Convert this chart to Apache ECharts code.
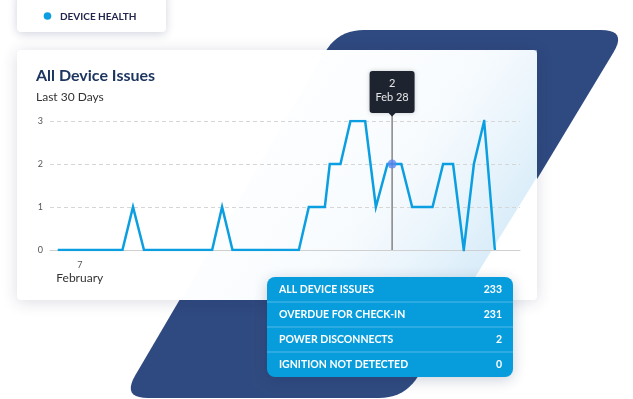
<!DOCTYPE html>
<html><head><meta charset="utf-8">
<script src="https://cdn.jsdelivr.net/npm/echarts@6/dist/echarts.min.js"></script>
<style>html,body{margin:0;padding:0;background:#fff;overflow:hidden}#c{width:633px;height:399px}</style>
</head><body><div id="c"></div>
<script>
// ---- data ----
const badgeText = 'DEVICE HEALTH';
const chartTitle = 'All Device Issues';
const chartSubtitle = 'Last 30 Days';
// day of February (fractional) for each vertex of the line
const days = [5.52, 9.87, 10.58, 11.32, 15.90, 16.57, 17.27, 21.73, 22.40, 23.48, 23.81, 24.53, 25.20,
              26.19, 26.91, 27.69, 28.00, 28.62, 29.35, 30.72, 31.43, 32.10, 32.82, 33.50, 34.19, 34.91];
const issues = [0, 0, 1, 0, 0, 1, 0, 0, 1, 1, 2, 2, 3,
                3, 1, 2, 2, 2, 1, 1, 2, 2, 0, 2, 3, 0];
const yTicks = [0, 1, 2, 3];
const xLabelDay = 7;
const xLabelMonth = 'February';
const hoverIndex = 16;
const hoverDate = 'Feb 28';
const tableLabels = ['ALL DEVICE ISSUES', 'OVERDUE FOR CHECK-IN', 'POWER DISCONNECTS', 'IGNITION NOT DETECTED'];
const tableValues = [233, 231, 2, 0];

// ---- helpers ----
const FONT = 'Lato, "Noto Sans", sans-serif';
function roundedPoly(pts, r, seg) {
  const out = [];
  const n = pts.length;
  for (let i = 0; i < n; i++) {
    const p = pts[i], a = pts[(i - 1 + n) % n], b = pts[(i + 1) % n];
    const la = Math.hypot(a[0] - p[0], a[1] - p[1]), lb = Math.hypot(b[0] - p[0], b[1] - p[1]);
    const s = [p[0] + (a[0] - p[0]) * r / la, p[1] + (a[1] - p[1]) * r / la];
    const e = [p[0] + (b[0] - p[0]) * r / lb, p[1] + (b[1] - p[1]) * r / lb];
    for (let k = 0; k <= seg; k++) {
      const t = k / seg, u = 1 - t;
      out.push([u * u * s[0] + 2 * u * t * p[0] + t * t * e[0], u * u * s[1] + 2 * u * t * p[1] + t * t * e[1]]);
    }
  }
  return out;
}
function txt(x, y, text, size, weight, color, align, z) {
  return { type: 'text', x: x, y: y, z: z,
    style: { text: text, fontSize: size, fontWeight: weight, fontFamily: FONT, fill: color,
      align: align, verticalAlign: 'middle', textAlign: align, textVerticalAlign: 'middle' } };
}

const chart = echarts.init(document.getElementById('c'), null, { renderer: 'canvas' });
chart.setOption({
  animation: false,
  grid: { left: 50, right: 113, top: 121, bottom: 149, outerBoundsMode: 'none', containLabel: false },
  xAxis: {
    type: 'value', min: 5, max: 36.6, interval: 1, z: 5,
    axisLine: { show: true, lineStyle: { color: '#cfcfcf', width: 1 } },
    axisTick: { show: false }, splitLine: { show: false },
    axisLabel: {
      showMaxLabel: false, margin: 9,
      formatter: v => Math.abs(v - xLabelDay) < 1e-6 ? `{d|${xLabelDay}}\n{m|${xLabelMonth}}` : '',
      rich: {
        d: { fontSize: 9, color: '#555', lineHeight: 12, fontFamily: FONT, align: 'center' },
        m: { fontSize: 12, color: '#333', lineHeight: 14, fontFamily: FONT, align: 'center' }
      }
    }
  },
  yAxis: {
    type: 'value', min: yTicks[0], max: yTicks[yTicks.length - 1], interval: 1, z: 5,
    axisLine: { show: false }, axisTick: { show: false },
    axisLabel: { fontSize: 9, color: '#555', margin: 7, fontFamily: FONT },
    splitLine: { lineStyle: { color: '#d6d6d6', type: [4, 3], width: 1 } }
  },
  series: [
    { type: 'line', z: 6, symbol: 'none', data: days.map((d, i) => [d, issues[i]]),
      lineStyle: { color: '#0b9fe1', width: 2.5, join: 'miter' } },
    { type: 'scatter', z: 9, data: [[days[hoverIndex], issues[hoverIndex]]], symbolSize: 9,
      itemStyle: { color: '#5b87f2' } }
  ]
});

const hp = chart.convertToPixel({ gridIndex: 0 }, [days[hoverIndex], issues[hoverIndex]]);
const topY = chart.convertToPixel({ yAxisIndex: 0 }, yTicks[yTicks.length - 1]);
const baseY = chart.convertToPixel({ yAxisIndex: 0 }, yTicks[0]);
const boxW = 45, boxH = 42, boxBottom = topY - 8;

const navy = roundedPoly([[338, 30], [627, 30], [405, 398], [122, 398]], 26, 10);
const g = [];
g.push({ type: 'polygon', z: 1, shape: { points: navy }, style: { fill: '#2f4a80' } });
g.push({ type: 'rect', z: 2, shape: { x: 17, y: 50, width: 520, height: 250, r: 4 },
  style: { fill: '#fff', shadowBlur: 16, shadowColor: 'rgba(30,40,80,0.16)', shadowOffsetY: 2 } });
g.push({ type: 'polygon', z: 3, shape: { points: [[326, 50], [537, 50], [537, 177], [461, 300], [181, 300]] },
  style: { fill: { type: 'linear', x: 0.1, y: 0, x2: 0.95, y2: 0.9, colorStops: [
    { offset: 0, color: 'rgba(235,245,252,0)' }, { offset: 0.55, color: 'rgba(228,241,251,0.25)' },
    { offset: 1, color: 'rgba(205,231,247,1)' }] } } });
g.push(txt(36, 76, chartTitle, 16, 'bold', '#1d3660', 'left', 4));
g.push(txt(36, 97.5, chartSubtitle, 12, 'normal', '#333', 'left', 4));
// hover crosshair + tooltip
g.push({ type: 'line', z: 7, shape: { x1: hp[0], y1: boxBottom, x2: hp[0], y2: baseY },
  style: { stroke: '#4a4a4a', lineWidth: 1 } });
g.push({ type: 'rect', z: 10, shape: { x: hp[0] - boxW / 2, y: boxBottom - boxH, width: boxW, height: boxH, r: 3 },
  style: { fill: '#1d2430', shadowBlur: 4, shadowColor: 'rgba(0,0,0,0.2)' } });
g.push({ type: 'polygon', z: 10, shape: { points: [[hp[0] - 4, boxBottom - 0.5], [hp[0] + 4, boxBottom - 0.5], [hp[0], boxBottom + 3.5]] },
  style: { fill: '#1d2430' } });
g.push(txt(hp[0], boxBottom - boxH + 12.5, String(issues[hoverIndex]), 11, 'normal', '#e6e6e6', 'center', 11));
g.push(txt(hp[0], boxBottom - boxH + 26.5, hoverDate, 11, 'normal', '#e6e6e6', 'center', 11));
// summary table
const tx = 267, ty = 277, tw = 246, rowH = 25;
g.push({ type: 'rect', z: 20, shape: { x: tx, y: ty, width: tw, height: rowH * tableLabels.length, r: 8 },
  style: { fill: '#079ddc', shadowBlur: 14, shadowColor: 'rgba(20,40,80,0.22)', shadowOffsetY: 3 } });
tableLabels.forEach((lab, i) => {
  const cy = ty + rowH * i + rowH / 2 + 0.5;
  if (i > 0) g.push({ type: 'line', z: 21, shape: { x1: tx, y1: ty + rowH * i, x2: tx + tw, y2: ty + rowH * i },
    style: { stroke: 'rgba(255,255,255,0.3)', lineWidth: 1 } });
  g.push(txt(tx + 12, cy, lab, 10.5, 'bold', '#fff', 'left', 22));
  g.push(txt(tx + tw - 11, cy, String(tableValues[i]), 10.5, 'bold', '#fff', 'right', 22));
});
// badge
g.push({ type: 'rect', z: 20, shape: { x: 17, y: -10, width: 149, height: 42, r: 4 },
  style: { fill: '#fff', shadowBlur: 10, shadowColor: 'rgba(30,40,90,0.2)', shadowOffsetY: 2 } });
g.push({ type: 'circle', z: 21, shape: { cx: 47.5, cy: 16, r: 3.8 }, style: { fill: '#0b9fe1' } });
g.push(txt(60, 16.5, badgeText, 10, 'bold', '#22254d', 'left', 22));
chart.setOption({ graphic: { elements: g } });
</script>
</body></html>
